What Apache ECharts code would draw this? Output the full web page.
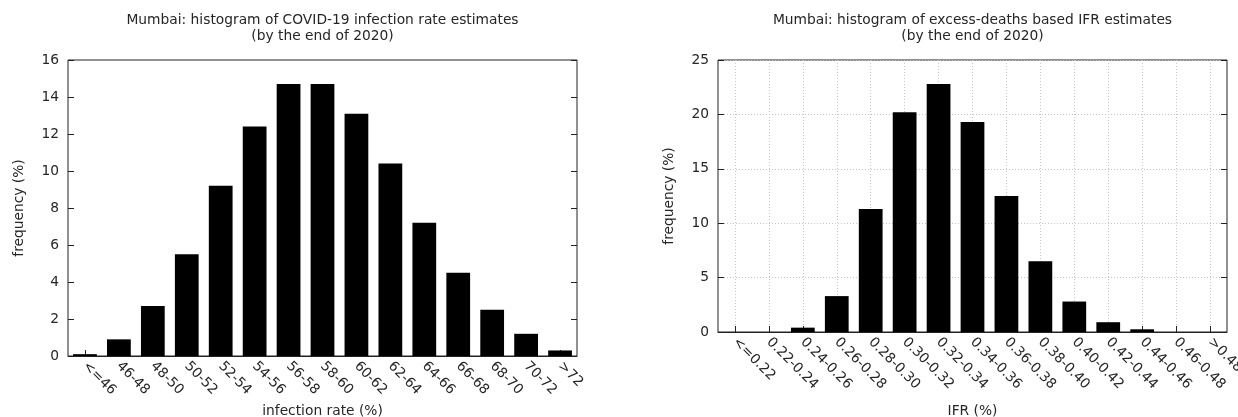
<!DOCTYPE html>
<html>
<head>
<meta charset="utf-8">
<script src="https://cdn.jsdelivr.net/npm/echarts@6/dist/echarts.min.js"></script>
<style>
html,body{margin:0;padding:0;background:#fff;}
#c{width:1238px;height:417px;}
</style>
</head>
<body>
<div id="c"></div>
<script>
const infCategories = ['<=46','46-48','48-50','50-52','52-54','54-56','56-58','58-60','60-62','62-64','64-66','66-68','68-70','70-72','>72'];
const infValues = [0.1,0.9,2.7,5.5,9.2,12.4,14.7,14.7,13.1,10.4,7.2,4.5,2.5,1.2,0.3];
const ifrCategories = ['<=0.22','0.22-0.24','0.24-0.26','0.26-0.28','0.28-0.30','0.30-0.32','0.32-0.34','0.34-0.36','0.36-0.38','0.38-0.40','0.40-0.42','0.42-0.44','0.44-0.46','0.46-0.48','>0.48'];
const ifrValues = [0,0,0.4,3.3,11.3,20.2,22.8,19.3,12.5,6.5,2.8,0.9,0.25,0,0];
const infTitle = 'Mumbai: histogram of COVID-19 infection rate estimates\n(by the end of 2020)';
const ifrTitle = 'Mumbai: histogram of excess-deaths based IFR estimates\n(by the end of 2020)';

const FONT = 'DejaVu Sans';
const FS = 13.8;
const TXT = '#262626';
const GRIDC = '#c4c4c4';
const chart = echarts.init(document.getElementById('c'), null, {renderer:'canvas'});

function yAx(gi, max, interval, pos, showName, grid) {
  return {
    type:'value', gridIndex:gi, min:0, max:max, interval:interval, position:pos,
    name: showName ? 'frequency (%)' : '', nameLocation:'middle', nameGap:42,
    nameTextStyle:{fontFamily:FONT,fontSize:FS,color:TXT},
    axisLine:{show:false},
    axisTick:{show:true,inside:true,length:6,lineStyle:{color:'#222'}},
    axisLabel:{show:showName,margin:9,fontFamily:FONT,fontSize:FS,color:TXT},
    splitLine:{show:grid && showName,lineStyle:{type:[1,2],color:GRIDC,width:1}}
  };
}
function xAx(gi, cats, name, gap, grid) {
  return {
    type:'category', gridIndex:gi, data:cats,
    name:name, nameLocation:'middle', nameGap:gap,
    nameTextStyle:{fontFamily:FONT,fontSize:FS,color:TXT},
    axisLine:{show:true,lineStyle:{color:'#222',width:1}},
    axisTick:{show:true,inside:true,length:6,alignWithLabel:true,lineStyle:{color:'#222'}},
    axisLabel:{rotate:-45,margin:8,interval:0,fontFamily:FONT,fontSize:FS,color:TXT},
    splitLine:{show:grid,alignWithLabel:true,lineStyle:{type:[1,2],color:GRIDC,width:1}}
  };
}

chart.setOption({
  animation:false,
  backgroundColor:'#fff',
  title:[
    {text:infTitle,left:322.5,top:12,textAlign:'center',padding:0,
     textStyle:{fontFamily:FONT,fontSize:FS,fontWeight:'normal',color:TXT,lineHeight:16}},
    {text:ifrTitle,left:972.5,top:12,textAlign:'center',padding:0,
     textStyle:{fontFamily:FONT,fontSize:FS,fontWeight:'normal',color:TXT,lineHeight:16}}
  ],
  grid:[
    {left:68,right:661,top:60,bottom:61,show:true,borderColor:'#222',borderWidth:1,backgroundColor:'transparent',outerBoundsMode:'none',containLabel:false},
    {left:718,right:11,top:60,bottom:85,show:true,borderColor:'#222',borderWidth:1,backgroundColor:'transparent',outerBoundsMode:'none',containLabel:false}
  ],
  xAxis:[
    xAx(0, infCategories, 'infection rate (%)', 48, false),
    xAx(1, ifrCategories, 'IFR (%)', 72, true)
  ],
  yAxis:[
    yAx(0,16,2,'left',true,false),
    yAx(0,16,2,'right',false,false),
    yAx(1,25,5,'left',true,true),
    yAx(1,25,5,'right',false,true)
  ],
  series:[
    {type:'bar',xAxisIndex:0,yAxisIndex:0,data:infValues,barWidth:'70%',
     itemStyle:{color:'#000'},silent:true},
    {type:'bar',xAxisIndex:1,yAxisIndex:2,data:ifrValues,barWidth:'70%',
     itemStyle:{color:'#000'},silent:true}
  ]
});
</script>
</body>
</html>
